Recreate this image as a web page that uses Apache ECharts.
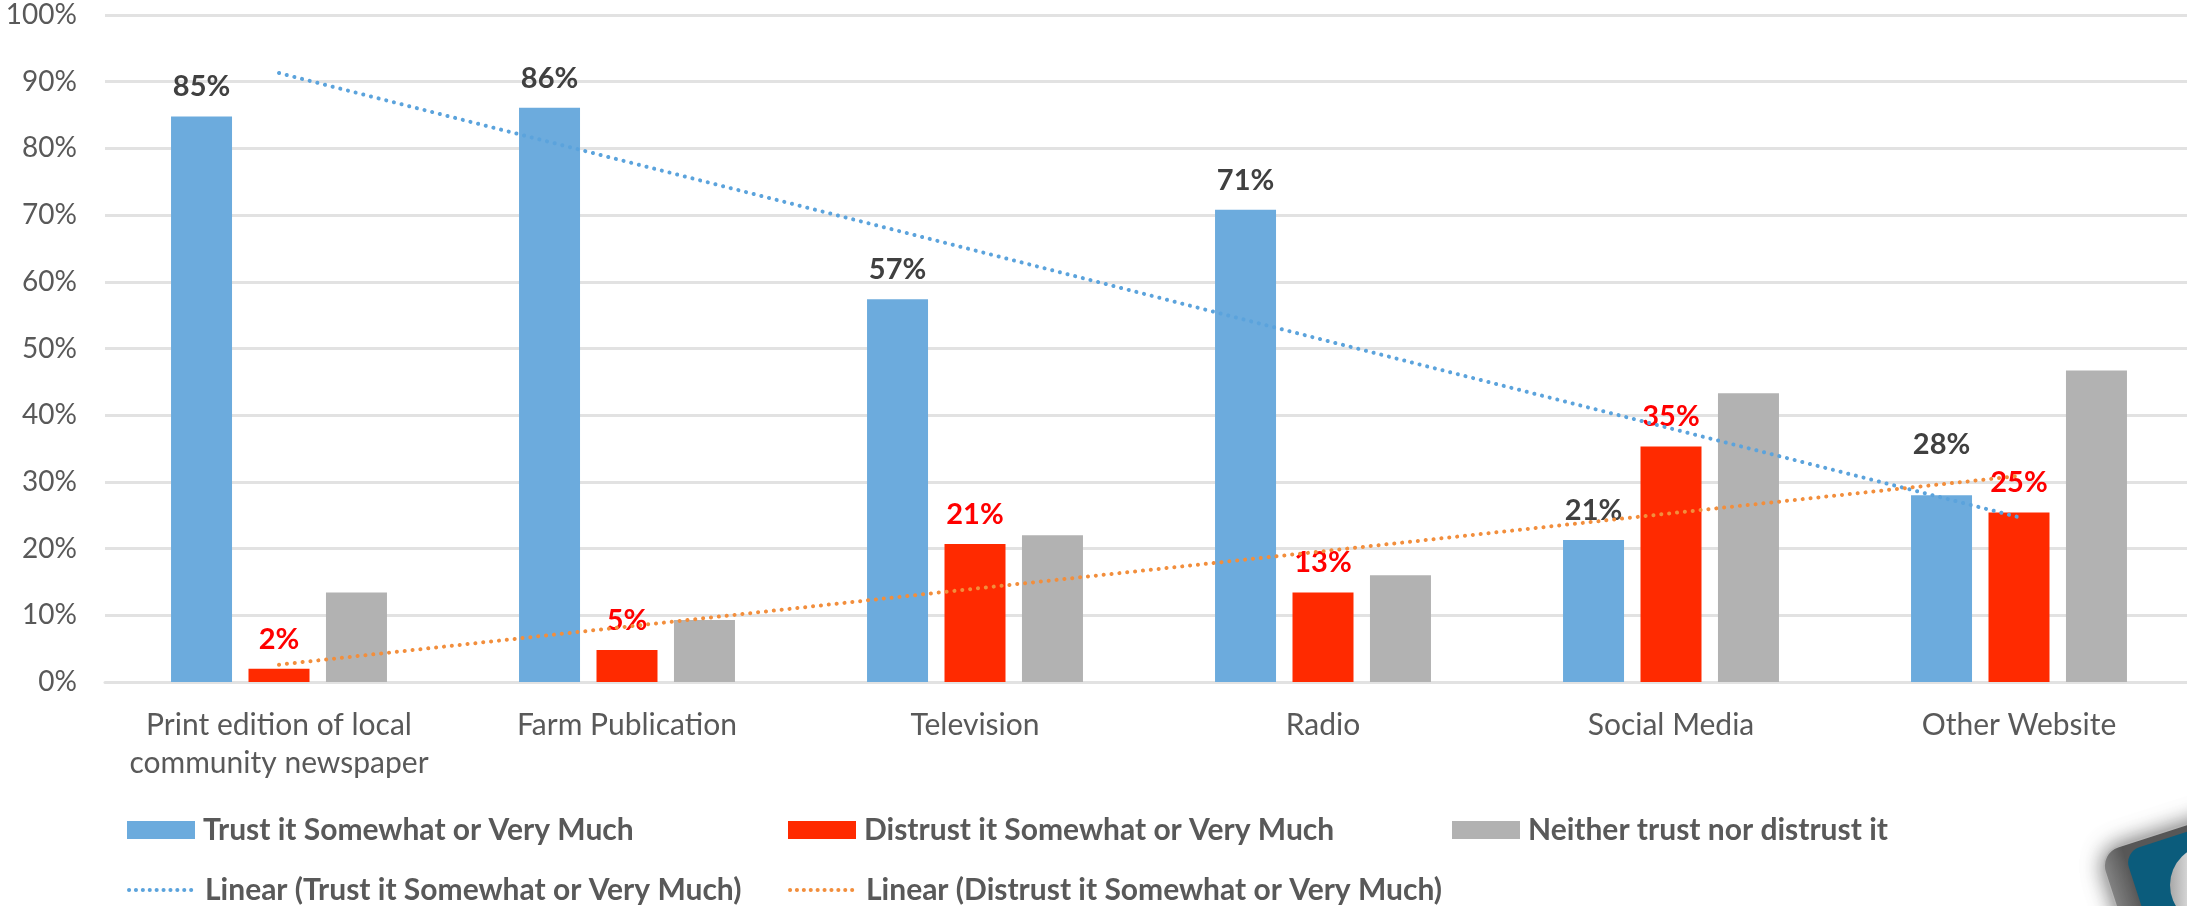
<!DOCTYPE html>
<html>
<head>
<meta charset="utf-8">
<style>
  html, body { margin: 0; padding: 0; background: #fff; overflow: hidden; }
  #main { width: 2187px; height: 906px; }
</style>
<script src="https://cdn.jsdelivr.net/npm/echarts@6/dist/echarts.min.js"></script>
</head>
<body>
<div id="main"></div>
<script>
const categories = ['Print edition of local\ncommunity newspaper', 'Farm Publication', 'Television', 'Radio', 'Social Media', 'Other Website']
const trustValues = [84.8, 86.1, 57.4, 70.8, 21.3, 28]
const distrustValues = [2, 4.8, 20.7, 13.4, 35.3, 25.4]
const neitherValues = [13.4, 9.3, 22, 16, 43.3, 46.7]
const trustTrend = [91.3, 78, 64.7, 51.3, 38, 24.7]
const distrustTrend = [2.6, 8.3, 14, 19.6, 25.3, 30.9]
const trustLabels = ['85%', '86%', '57%', '71%', '21%', '28%']
const distrustLabels = ['2%', '5%', '21%', '13%', '35%', '25%']

const FONT = 'Lato'
const DEG = Math.PI / 180
const chart = echarts.init(document.getElementById('main'))

function barLabel(texts, color) {
  return {
    show: true,
    position: 'top',
    distance: 15,
    fontFamily: FONT,
    fontWeight: 'bold',
    fontSize: 29,
    color: color,
    formatter: p => texts[p.dataIndex]
  }
}

// one legend per item, the two rows are not evenly spaced
function legendItem(item, left, top) {
  return {
    data: [item],
    left: left,
    top: top,
    padding: 0,
    itemWidth: 68,
    itemHeight: 18,
    textStyle: {
      fontFamily: FONT,
      fontWeight: 'bold',
      fontSize: 30,
      color: '#595959',
      padding: [0, 0, 0, 3]
    }
  }
}

// the line icon always gets a circle, hide it and keep the dots
const rectItem = name => ({ name: name, icon: 'rect' })
const lineItem = name => ({
  name: name,
  itemStyle: { opacity: 0 },
  lineStyle: { width: 4, type: [0.1, 6.8], cap: 'round' }
})

const option = {
  animation: false,
  backgroundColor: '#fff',
  textStyle: { fontFamily: FONT },
  grid: { left: 105, top: 15, width: 2088, height: 667, outerBoundsMode: 'none' },
  legend: [
    legendItem(rectItem('Trust it Somewhat or Very Much'), 127, 815),
    legendItem(rectItem('Distrust it Somewhat or Very Much'), 788, 815),
    legendItem(rectItem('Neither trust nor distrust it'), 1452, 815),
    legendItem(lineItem('Linear (Trust it Somewhat or Very Much)'), 127, 875),
    legendItem(lineItem('Linear (Distrust it Somewhat or Very Much)'), 788, 875)
  ],
  xAxis: {
    type: 'category',
    data: categories,
    axisTick: { show: false },
    axisLine: { lineStyle: { color: '#E2E2E2', width: 3 } },
    axisLabel: {
      fontFamily: FONT,
      fontSize: 30,
      color: '#595959',
      margin: 24,
      lineHeight: 38,
      interval: 0
    }
  },
  yAxis: {
    type: 'value',
    min: 0,
    max: 100,
    interval: 10,
    axisLine: { show: false },
    axisTick: { show: false },
    splitLine: { lineStyle: { color: '#E2E2E2', width: 3 } },
    axisLabel: {
      fontFamily: FONT,
      fontSize: 28,
      color: '#595959',
      margin: 28,
      formatter: '{value}%'
    }
  },
  series: [
    {
      name: 'Trust it Somewhat or Very Much',
      type: 'bar',
      // the last label sits higher than the others in the original
      data: trustValues.map((v, i) => i === 5 ? { value: v, label: { distance: 36 } } : v),
      barWidth: 61,
      barGap: '27%',
      itemStyle: { color: '#6CABDD' },
      label: barLabel(trustLabels, '#404040')
    },
    {
      name: 'Distrust it Somewhat or Very Much',
      type: 'bar',
      data: distrustValues,
      barWidth: 61,
      itemStyle: { color: '#FF2A00' },
      label: barLabel(distrustLabels, '#FF0000')
    },
    {
      name: 'Neither trust nor distrust it',
      type: 'bar',
      data: neitherValues,
      barWidth: 61,
      itemStyle: { color: '#B2B2B2' }
    },
    {
      name: 'Linear (Trust it Somewhat or Very Much)',
      type: 'line',
      data: trustTrend,
      symbol: 'none',
      lineStyle: { color: '#5BA3DC', width: 4, type: [0.1, 7.8], cap: 'round' },
      z: 3
    },
    {
      name: 'Linear (Distrust it Somewhat or Very Much)',
      type: 'line',
      data: distrustTrend,
      symbol: 'none',
      lineStyle: { color: '#F28E3C', width: 4, type: [0.1, 7.8], cap: 'round' },
      z: 3
    }
  ],
  // corner of the logo badge at bottom right
  graphic: [
    {
      type: 'rect',
      x: 2099,
      y: 853,
      rotation: 18 * DEG,
      shape: { x: 0, y: 0, width: 200, height: 200, r: 20 },
      style: {
        fill: new echarts.graphic.LinearGradient(0, 0, 1, 0, [
          { offset: 0, color: '#8a8a8a' },
          { offset: 0.12, color: '#5a5a5a' }
        ]),
        stroke: '#b5b5b5',
        lineWidth: 1.5,
        shadowBlur: 22,
        shadowColor: 'rgba(0,0,0,0.6)'
      },
      z: 10
    },
    {
      type: 'rect',
      x: 2099,
      y: 853,
      rotation: 18 * DEG,
      shape: { x: 24, y: 7, width: 170, height: 170, r: 16 },
      style: { fill: '#0B5C7C' },
      z: 11
    },
    {
      type: 'circle',
      shape: { cx: 2210, cy: 885, r: 40 },
      style: {
        fill: new echarts.graphic.LinearGradient(0, 0, 1, 0, [
          { offset: 0, color: '#a8a8a8' },
          { offset: 0.3, color: '#e6e6e6' }
        ])
      },
      z: 12
    }
  ]
}

chart.setOption(option)
</script>
</body>
</html>
